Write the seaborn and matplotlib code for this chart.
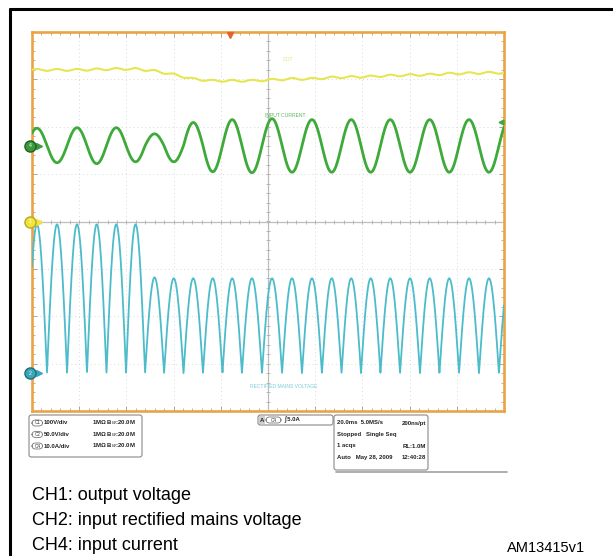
import numpy as np
import pandas as pd
import matplotlib
matplotlib.use("Agg")
import matplotlib.pyplot as plt
import seaborn as sns
from matplotlib.patches import FancyBboxPatch, Rectangle
from matplotlib.lines import Line2D

# ---------------- data ----------------
# times (ms) of the mains half-cycle peaks (rectified-voltage maxima)
halfcycle_peak_ms = [2.1, 10.6, 19.1, 27.5, 35.6, 44.1, 51.7, 60.2, 68.2, 76.7,
                     84.7, 93.2, 101.7, 110.2, 118.6, 127.1, 135.2, 143.6, 151.7,
                     160.2, 168.6, 176.7, 185.2, 193.6, 202.1]
# CH2 rectified mains voltage, peak value of each half-cycle (V)
ch2_peak_v = [157, 157, 157, 157, 157, 157, 101, 100, 100, 100,
              100, 100, 100, 100, 100, 100, 100, 100, 100,
              100, 100, 100, 100, 100, 100]
# CH4 input current, signed peak of each half-cycle (A)
ch4_peak_a = [3.7, -3.6, 3.8, -3.8, 3.8, -3.4, 2.5, -3.4, 4.9, -5.5,
              5.5, -5.7, 5.7, -5.6, 5.5, -5.6, 5.5, -5.6, 5.5,
              -5.6, 5.5, -5.6, 5.5, -5.6, 5.5]
# CH1 output voltage, mean level in each half-cycle (V) and ripple (V)
ch1_level_v = [320, 320, 320, 321, 322, 322, 318, 310, 301, 297,
               297, 297, 299, 301, 301, 304, 305, 306, 308,
               309, 310, 312, 313, 314, 314]
ch1_ripple_v = 2.0

# scope settings (vertical scale per division, zero position in divisions)
time_per_div_ms = 20.0
ch_scale = {"CH1": 100.0, "CH2": 50.0, "CH4": 10.0}
ch_offset_div = {"CH1": 0.0, "CH2": -3.2, "CH4": 1.6}
trigger_level_a = 5.0
trigger_time_ms = 83.9

info_left = [("C1", "100V/div", "1MΩ B$_W$:20.0M"),
             ("C2", "50.0V/div", "1MΩ B$_W$:20.0M"),
             ("C4", "10.0A/div", "1MΩ B$_W$:20.0M")]
info_right = [("20.0ms  5.0MS/s", "200ns/pt"),
              ("Stopped   Single Seq", ""),
              ("1 acqs", "RL:1.0M"),
              ("Auto   May 28, 2009", "12:40:28")]
captions = ["CH1: output voltage", "CH2: input rectified mains voltage", "CH4: input current"]
ref_code = "AM13415v1"

# ---------------- waveform rendering ----------------
tp = np.array(halfcycle_peak_ms)
z = np.empty(len(tp) + 1)
z[1:-1] = (tp[1:] + tp[:-1]) / 2
z[0] = tp[0] - (tp[1] - tp[0]) / 2
z[-1] = tp[-1] + (tp[-1] - tp[-2]) / 2

t = np.linspace(0, 200, 5001)
k = np.clip(np.searchsorted(z, t, side="right") - 1, 0, len(tp) - 1)
phase = (t - z[k]) / (z[k + 1] - z[k])
arch = np.sin(np.pi * phase)
v2 = np.array(ch2_peak_v)[k] * arch
i4 = np.array(ch4_peak_a)[k] * arch
lvl = np.interp(t, tp, ch1_level_v)
v1 = lvl + ch1_ripple_v * np.cos(2 * np.pi * (phase - 0.5))

def to_div(name, vals):
    return ch_offset_div[name] + np.asarray(vals) / ch_scale[name]

df = pd.DataFrame({
    "x": np.tile(t / time_per_div_ms, 3),
    "y": np.concatenate([to_div("CH1", v1), to_div("CH4", i4), to_div("CH2", v2)]),
    "ch": ["CH1"] * len(t) + ["CH4"] * len(t) + ["CH2"] * len(t),
})

# ---------------- figure ----------------
sns.set_theme(style="white")
plt.rcParams["font.family"] = ["Liberation Sans", "DejaVu Sans"]

W, H = 613, 556
fig = plt.figure(figsize=(W / 100, H / 100), dpi=100)
fig.patch.set_facecolor("white")

def fx(x):
    return x / W

def fy(y):
    return 1 - y / H

# outer black frame lines (top and left)
fig.add_artist(Line2D([fx(10), fx(613)], [fy(9), fy(9)], color="black", lw=2.2))
fig.add_artist(Line2D([fx(10), fx(10)], [fy(9), fy(556)], color="black", lw=2.2))

L, R, T, B = 32, 504, 32, 411
ax = fig.add_axes([fx(L), fy(B), (R - L) / W, (B - T) / H])
ax.set_xlim(0, 10)
ax.set_ylim(-4, 4)
ax.set_facecolor("white")

# graticule
ax.set_xticks(np.arange(0, 11, 1))
ax.set_yticks(np.arange(-4, 5, 1))
ax.set_xticks(np.arange(0, 10.01, 0.2), minor=True)
ax.set_yticks(np.arange(-4, 4.01, 0.2), minor=True)
ax.tick_params(which="both", direction="in", top=True, right=True, bottom=True, left=True,
               labelbottom=False, labelleft=False, color="#a8a8a8")
ax.tick_params(which="major", length=3.6, width=0.7)
ax.tick_params(which="minor", length=2.0, width=0.6)
ax.grid(which="major", color="#d8d8d8", ls=(0, (1, 3)), lw=0.7)
for s in ax.spines.values():
    s.set_color("#eba445")
    s.set_linewidth(1.9)

ax.axhline(0, color="#bdbdbd", lw=0.9, zorder=1)
ax.axvline(5, color="#bdbdbd", lw=0.9, zorder=1)
mt = np.arange(0, 10.01, 0.2)
ax.plot(mt, np.zeros_like(mt), ls="none", marker="|", ms=3.5, mew=0.6, color="#b0b0b0", zorder=1)
mty = np.arange(-4, 4.01, 0.2)
ax.plot(np.full_like(mty, 5.0), mty, ls="none", marker="_", ms=3.5, mew=0.6, color="#b0b0b0", zorder=1)

# traces
styles = {"CH1": ("#e6e650", 1.5), "CH4": ("#3daa3a", 2.0), "CH2": ("#4cbccb", 1.3)}
for name in ["CH2", "CH1", "CH4"]:
    col, lw = styles[name]
    sns.lineplot(data=df[df.ch == name], x="x", y="y", ax=ax, color=col, lw=lw,
                 sort=False, legend=False, zorder=3)
ax.set_xlabel("")
ax.set_ylabel("")

# trace labels
ax.text(5.32, 3.42, "OUT", color="#e8e070", fontsize=3.6, va="center", ha="left")
ax.text(4.94, 2.23, "INPUT CURRENT", color="#5cb85a", fontsize=3.6, va="center", ha="left")
ax.text(4.62, -3.48, "RECTIFIED MAINS VOLTAGE", color="#7cccd6", fontsize=3.6, va="center", ha="left")

# channel ground markers
markers = [("CH4", "4", "#3c9a3c", "#1f5f1f"), ("CH1", "1", "#f2e43a", "#b8a820"),
           ("CH2", "2", "#3aa8b8", "#1f6f7c")]
for name, lab, fc, ec in markers:
    yy = ch_offset_div[name]
    ax.plot([0.14], [yy], marker=">", ms=4.5, color=fc, clip_on=False, zorder=5)
    ax.plot([-0.04], [yy], marker="o", ms=8, mfc=fc, mec=ec, mew=1.0, clip_on=False, zorder=6)
    ax.text(-0.04, yy, lab, fontsize=3.6, ha="center", va="center", color="white",
            zorder=7, clip_on=False)

# trigger position and level markers
ax.plot([trigger_time_ms / time_per_div_ms], [3.93], marker="v", ms=4.5, color="#e8602c",
        clip_on=False, zorder=6)
ax.plot([9.93], [to_div("CH4", trigger_level_a)], marker="<", ms=3.5, color="#3daa3a",
        clip_on=False, zorder=6)

# ---------------- info boxes ----------------
def box(x0, y0, x1, y1, lw=0.8, ec="#8a8a8a"):
    p = FancyBboxPatch((fx(x0), fy(y1)), fx(x1) - fx(x0), fy(y0) - fy(y1),
                       boxstyle="round,pad=0,rounding_size=0.004", transform=fig.transFigure,
                       fc="white", ec=ec, lw=lw)
    fig.add_artist(p)

fs_info = 4.3
box(29, 415, 142, 457)
for i, (c, scale, bw) in enumerate(info_left):
    yy = 423 + i * 11.5
    badge = FancyBboxPatch((fx(32), fy(yy + 3)), fx(10.5), fy(0) - fy(6),
                           boxstyle="round,pad=0,rounding_size=0.006", transform=fig.transFigure,
                           fc="white", ec="#777777", lw=0.6)
    fig.add_artist(badge)
    fig.text(fx(37.3), fy(yy), c, fontsize=3.3, ha="center", va="center", color="#333333")
    fig.text(fx(44), fy(yy), scale, fontsize=fs_info, ha="left", va="center", weight="bold",
             color="#222222")
    fig.text(fx(92), fy(yy), bw, fontsize=fs_info, ha="left", va="center", weight="bold",
             color="#222222")

box(258, 415, 333, 425)
fig.add_artist(Rectangle((fx(259), fy(424)), fx(6), fy(0) - fy(8), transform=fig.transFigure,
                         fc="#cfcfcf", ec="none"))
fig.text(fx(262), fy(420), "A", fontsize=fs_info, ha="center", va="center", weight="bold",
         color="#222222")
badge = FancyBboxPatch((fx(266), fy(423)), fx(15), fy(0) - fy(6),
                       boxstyle="round,pad=0,rounding_size=0.006", transform=fig.transFigure,
                       fc="white", ec="#777777", lw=0.6)
fig.add_artist(badge)
fig.text(fx(273.5), fy(420), "C4", fontsize=3.3, ha="center", va="center", color="#333333")
fig.text(fx(284), fy(420), "∫ 5.0A", fontsize=fs_info, ha="left", va="center", weight="bold",
         color="#222222")

fig.add_artist(Line2D([fx(336), fx(507)], [fy(471.5), fy(471.5)], color="#a0a0a0", lw=1.2))
box(334, 415, 428, 470)
for i, (lt, rt) in enumerate(info_right):
    yy = 423 + i * 11.5
    fig.text(fx(337), fy(yy), lt, fontsize=fs_info, ha="left", va="center", weight="bold",
             color="#222222")
    if rt:
        fig.text(fx(426), fy(yy), rt, fontsize=fs_info, ha="right", va="center", weight="bold",
                 color="#222222")

# ---------------- captions ----------------
for i, cap in enumerate(captions):
    fig.text(fx(32), fy(494 + i * 24.5), cap, fontsize=13, ha="left", va="center_baseline",
             color="black")
fig.text(fx(546), fy(546), ref_code, fontsize=10.5, ha="center", va="center_baseline",
         color="black")

fig.savefig("out.png", dpi=100, facecolor="white")
